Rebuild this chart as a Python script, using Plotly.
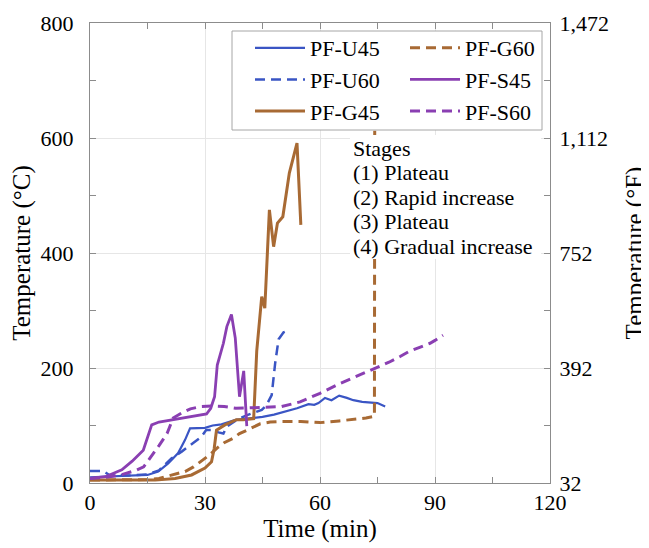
import plotly.graph_objects as go

# ---------------- data ----------------
u45_t = [0, 5, 10, 15, 17.8, 20.4, 23, 24.8, 26.1, 30, 32, 34.3, 38, 42, 45, 48, 51, 54, 57, 58.5, 59.6, 61.3, 63, 65, 67, 68.7, 71, 73.9, 75, 77]
u45_T = [10, 11, 12, 14, 20, 34, 52, 75, 95, 96, 100, 102, 110, 113, 115, 119, 124, 130, 137, 136, 139, 148, 144, 152, 148, 144, 141, 139, 139, 133]

u60_t = [0, 3.5, 5, 10, 15, 18, 21.3, 24, 27, 29, 30.3, 32, 33.5, 34.8, 35.7, 38.3, 41, 44.8, 46, 47, 47.4, 48.3, 49.2, 50.5, 52]
u60_T = [21, 21, 14, 13, 15, 22, 43, 55, 70, 80, 92, 92, 88, 86, 98, 110, 118, 127, 135, 150, 153, 208, 250, 262, 266]

g45_t = [0, 8, 17, 22.2, 26.5, 30, 31.7, 32.4, 33, 35.2, 38.2, 40, 42.7, 43.5, 44.3, 44.8, 45.6, 46.8, 47.9, 48.9, 50.3, 52, 54, 55]
g45_T = [5, 5, 5, 8, 14, 26, 37, 60, 92, 101, 110, 110, 112, 230, 290, 324, 304, 475, 411, 452, 463, 539, 591, 449]

g60_t = [0, 5, 10, 15, 18, 21, 24.8, 27, 28.8, 31, 33.2, 35, 37.4, 39, 41, 44.4, 47, 49.6, 55, 60, 65, 70, 72, 74.2, 74.3]
g60_T = [5, 5, 5, 6, 8, 13, 20, 28, 37, 48, 61, 70, 78, 86, 92, 103, 106, 107, 107, 105, 108, 111, 113, 116, 790]

s45_t = [0, 4, 8.3, 11, 13.9, 16.1, 18, 21.3, 25.6, 30.4, 31.5, 32.5, 33.2, 34.8, 35.7, 36.9, 37.9, 39, 40.1, 40.4, 40.9]
s45_T = [8, 11, 23, 38, 57, 101, 106, 110, 115, 120, 130, 150, 205, 243, 272, 293, 252, 150, 195, 150, 99]

s60_t = [0, 4, 8, 12, 14, 16.1, 18, 20.1, 21.7, 24, 26.2, 29, 32, 35, 38, 42.7, 46, 50, 54.8, 60, 65.2, 70, 73.9, 78, 80.9, 83, 86, 88.7, 90, 92.1]
s60_T = [8, 10, 14, 22, 28, 47, 65, 86, 113, 122, 129, 133, 134, 133, 130, 131, 132, 133, 141, 156, 173, 187, 199, 210, 220, 228, 236, 243, 248, 257]

x_ticks = [0, 30, 60, 90, 120]
c_ticks = [0, 200, 400, 600, 800]
f_ticks = [32, 392, 752, 1112, 1472]
stages = ["Stages", "(1) Plateau", "(2) Rapid increase", "(3) Plateau", "(4) Gradual increase"]

# ---------------- style ----------------
FONT = "Liberation Serif, Times New Roman, serif"
BLUE = "#3a55c4"
PURPLE = "#8a3fb2"
BROWN = "#a86a34"
DASH = "10px,6px"

fig = go.Figure()

series = [
    ("PF-U45", u45_t, u45_T, BLUE, "solid", 2.2, "legend"),
    ("PF-U60", u60_t, u60_T, BLUE, DASH, 2.5, "legend"),
    ("PF-G45", g45_t, g45_T, BROWN, "solid", 3, "legend"),
    ("PF-G60", g60_t, g60_T, BROWN, DASH, 3, "legend2"),
    ("PF-S45", s45_t, s45_T, PURPLE, "solid", 2.8, "legend2"),
    ("PF-S60", s60_t, s60_T, PURPLE, DASH, 3, "legend2"),
]
for name, t, T, col, dash, w, lg in series:
    fig.add_trace(go.Scatter(x=t, y=T, mode="lines", name=name,
                             line=dict(color=col, dash=dash, width=w),
                             legend=lg))

# the page body has an 8px margin, so the figure is a bit smaller than the window
OFF = 8
W, H = 641, 540
ML, MR, MT, MB = 82, 99, 15, 65
PW = W - ML - MR
PH = H - MT - MB


def px_x(p):  # page pixel -> paper x
    return (p - OFF - ML) / PW


def px_y(p):  # page pixel -> paper y
    return (H - MB - (p - OFF)) / PH


axis_common = dict(
    showline=True, linecolor="#8c8c8c", linewidth=1,
    ticks="inside", ticklen=6, tickcolor="#8c8c8c",
    tickfont=dict(family=FONT, size=22, color="black"),
    zeroline=False, automargin=False,
)
TITLE_FONT = dict(family=FONT, size=25, color="black")

fig.update_layout(
    width=W, height=H,
    margin=dict(l=ML, r=MR, t=MT, b=MB, autoexpand=False),
    paper_bgcolor="white", plot_bgcolor="white",
    font=dict(family=FONT, color="black"),
    xaxis=dict(
        range=[0, 120], tickvals=x_ticks, mirror="allticks",
        showgrid=True, gridcolor="#e6e6e6",
        minor=dict(dtick=15, tick0=0, ticks="inside", ticklen=6, tickcolor="#8c8c8c", showgrid=False),
        title=dict(text="Time (min)", font=TITLE_FONT, standoff=2),
        **axis_common,
    ),
    yaxis=dict(
        range=[0, 800], tickvals=c_ticks,
        showgrid=True, gridcolor="#e6e6e6",
        minor=dict(dtick=100, tick0=0, ticks="inside", ticklen=6, tickcolor="#8c8c8c", showgrid=False),
        title=dict(text="Temperature (°C)", font=TITLE_FONT, standoff=3),
        ticklabelstandoff=11,
        **axis_common,
    ),
    yaxis2=dict(
        overlaying="y", side="right", range=[32, 1472],
        tickvals=f_ticks, tickformat=",d", showgrid=False,
        minor=dict(dtick=180, tick0=32, ticks="inside", ticklen=6, tickcolor="#8c8c8c", showgrid=False),
        title=dict(text="Temperature (°F)", font=TITLE_FONT, standoff=17),
        ticklabelstandoff=4,
        **axis_common,
    ),
    showlegend=True,
    legend=dict(x=px_x(250), y=px_y(27), xanchor="left", yanchor="top",
                bgcolor="rgba(0,0,0,0)", borderwidth=0, itemwidth=50,
                font=dict(family=FONT, size=22, color="black")),
    legend2=dict(x=px_x(405), y=px_y(27), xanchor="left", yanchor="top",
                 bgcolor="rgba(0,0,0,0)", borderwidth=0, itemwidth=50,
                 font=dict(family=FONT, size=22, color="black")),
)

# invisible trace so the right-hand axis is drawn
fig.add_trace(go.Scatter(x=[None], y=[None], yaxis="y2", showlegend=False, hoverinfo="skip"))

# legend frame and stages box (white backgrounds)
fig.add_shape(type="rect", xref="paper", yref="paper", layer="above",
              x0=px_x(232), x1=px_x(542), y0=px_y(130), y1=px_y(31),
              line=dict(color="#a6a6a6", width=1), fillcolor="white")
fig.add_shape(type="rect", xref="paper", yref="paper", layer="above",
              x0=px_x(350), x1=px_x(541), y0=px_y(259), y1=px_y(135),
              line=dict(width=0), fillcolor="white")

stage_y = [148, 172, 197, 222, 246]
for txt, yy in zip(stages, stage_y):
    fig.add_annotation(text=txt, xref="paper", yref="paper", x=px_x(351), y=px_y(yy),
                       xanchor="left", yanchor="middle", showarrow=False,
                       font=dict(family=FONT, size=22, color="black"))

fig.write_html("out.html")
